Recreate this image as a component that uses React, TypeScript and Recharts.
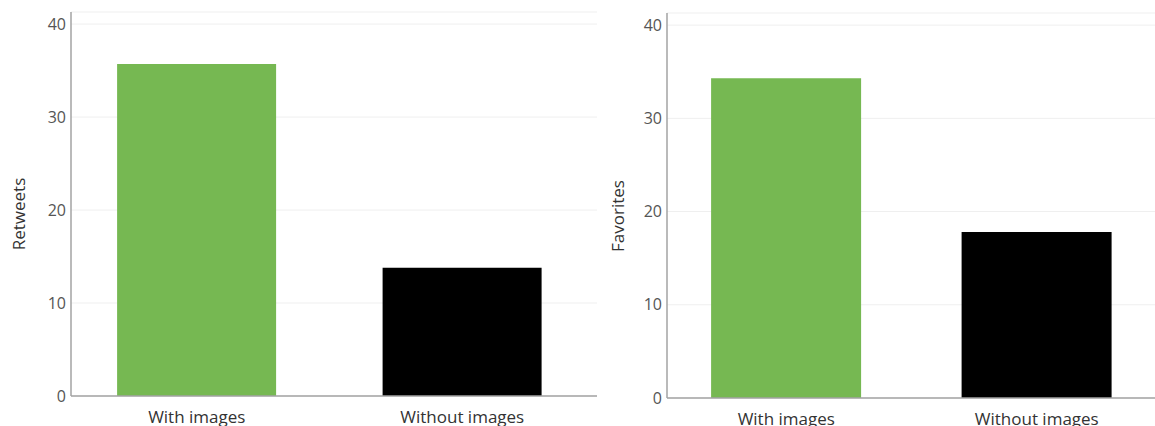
import { BarChart, Bar, XAxis, YAxis, CartesianGrid, Cell } from 'recharts';

const categories = ['With images', 'Without images'];
const retweets = [35.7, 13.8];
const favorites = [34.3, 17.8];
const yTicks = [0, 10, 20, 30, 40];
const barColors = ['#76b852', '#000000'];

const font = '"Open Sans", sans-serif';
const axisColor = '#a3a3a3';

type PanelProps = {
  title: string;
  values: number[];
  left: number;
  width: number;
  marginTop: number;
  axisHeight: number;
  axisWidth: number;
  titleX: number;
  titleY: number;
  padLeft: number;
  padRight: number;
};

function Panel({ title, values, left, width, marginTop, axisHeight, axisWidth, titleX, titleY, padLeft, padRight }: PanelProps) {
  const data = categories.map((name, i) => ({ name, value: values[i] }));
  const renderTitle = () => (
    <text
      x={titleX}
      y={titleY}
      transform={`rotate(-90, ${titleX}, ${titleY})`}
      textAnchor="middle"
      dominantBaseline="central"
      fontSize={17}
      fontFamily={font}
      fill="#333"
    >
      {title}
    </text>
  );

  return (
    <div style={{ position: 'absolute', left, top: 0 }}>
      <BarChart
        width={width}
        height={426}
        data={data}
        margin={{ top: marginTop, right: 0, bottom: 0, left: 0 }}
        barCategoryGap="20%"
      >
        <CartesianGrid vertical={false} stroke="#efefef" />
        <XAxis
          dataKey="name"
          height={axisHeight}
          tickLine={false}
          tickSize={0}
          tickMargin={15}
          axisLine={{ stroke: axisColor, strokeWidth: 1.5 }}
          padding={{ left: padLeft, right: padRight }}
          tick={{ fontSize: 17, fontFamily: font, fill: '#333' }}
        />
        <YAxis
          width={axisWidth}
          domain={[0, 41.3]}
          ticks={yTicks}
          tickLine={false}
          tickSize={0}
          tickMargin={5}
          axisLine={{ stroke: axisColor, strokeWidth: 1.5 }}
          tick={{ fontSize: 16, fontFamily: font, fill: '#555' }}
          label={renderTitle}
        />
        <Bar dataKey="value" isAnimationActive={false}>
          {data.map((d, i) => (
            <Cell key={d.name} fill={barColors[i]} />
          ))}
        </Bar>
      </BarChart>
    </div>
  );
}

export default function App() {
  return (
    <div style={{ position: 'absolute', left: 0, top: 0, width: 1155, height: 426, background: '#fff', overflow: 'hidden' }}>
      <Panel
        title="Retweets"
        values={retweets}
        left={0}
        width={597}
        marginTop={12}
        axisHeight={30}
        axisWidth={71}
        titleX={18}
        titleY={214}
        padLeft={-7}
        padRight={2}
      />
      <Panel
        title="Favorites"
        values={favorites}
        left={600}
        width={555}
        marginTop={13}
        axisHeight={28}
        axisWidth={67}
        titleX={17}
        titleY={216}
        padLeft={-6}
        padRight={-7}
      />
    </div>
  );
}
